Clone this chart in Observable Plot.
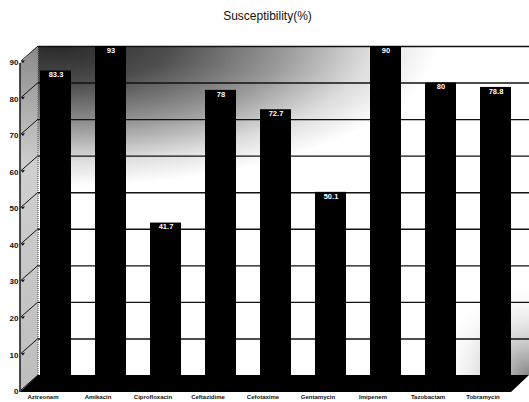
<!DOCTYPE html>
<html><head><meta charset="utf-8">
<script src="https://cdn.jsdelivr.net/npm/d3@7"></script>
<script src="https://cdn.jsdelivr.net/npm/@observablehq/plot@0.6"></script>
<style>
body{margin:0;background:#fff;font-family:"Liberation Sans",Arial,sans-serif;}
#title{height:32px;box-sizing:border-box;padding-top:9px;text-align:center;font-size:12px;line-height:14px;color:#111;padding-left:6px;}
#chart svg{display:block;}
</style></head><body>
<div id="title">Susceptibility(%)</div>
<div id="chart"></div>
<script>
const categories = ["Aztreonam","Amikacin","Ciprofloxacin","Ceftazidime","Cefotaxime","Gentamycin","Imipenem","Tazobactam","Tobramycin"];
const values = [83.3, 93, 41.7, 78, 72.7, 50.1, 90, 80, 78.8];
const valueLabels = ["83.3","93","41.7","78","72.7","50.1","90","80","78.8"];
const yTicks = [0,10,20,30,40,50,60,70,80,90];

const data = categories.map((c,i)=>({category:c, value:values[i], label:valueLabels[i]}));

const W = 529, H = 370;
const ML = 38, MR = 0, MT = 14, MB = 27;
const DX = 18, DY = 17; // 3D depth offset (style)

function decor(index, scales, vals, dims) {
  const y = scales.y;
  const g = d3.create("svg:g");
  const left = dims.marginLeft, right = dims.width - dims.marginRight;
  const top = dims.marginTop, bottom = dims.height - dims.marginBottom;
  const defs = g.append("defs");
  const rg = defs.append("radialGradient").attr("id","wallg")
    .attr("gradientUnits","userSpaceOnUse")
    .attr("cx",0).attr("cy",0).attr("r",380)
    .attr("gradientTransform",`translate(${left+20},${top-4}) scale(1,0.38)`);
  [[0,"#262626"],[0.3,"#4e4e4e"],[0.6,"#9a9a9a"],[0.82,"#dcdcdc"],[1,"#ffffff"]]
    .forEach(([o,c])=>rg.append("stop").attr("offset",o).attr("stop-color",c));
  const rg2 = defs.append("radialGradient").attr("id","wallg2")
    .attr("gradientUnits","userSpaceOnUse")
    .attr("cx",right).attr("cy",bottom).attr("r",95);
  rg2.append("stop").attr("offset",0).attr("stop-color","#777").attr("stop-opacity",0.9);
  rg2.append("stop").attr("offset",1).attr("stop-color","#fff").attr("stop-opacity",0);
  const sg = defs.append("linearGradient").attr("id","sideg").attr("x1",0).attr("y1",0).attr("x2",0).attr("y2",1);
  sg.append("stop").attr("offset",0).attr("stop-color","#8a8a8a");
  sg.append("stop").attr("offset",0.35).attr("stop-color","#cfcfcf");
  sg.append("stop").attr("offset",1).attr("stop-color","#bdbdbd");

  g.append("rect").attr("x",left).attr("y",top).attr("width",right-left).attr("height",bottom-top).attr("fill","url(#wallg)");
  g.append("rect").attr("x",left).attr("y",top).attr("width",right-left).attr("height",bottom-top).attr("fill","url(#wallg2)");
  // side wall
  g.append("polygon")
    .attr("points",`${left-DX},${top+DY} ${left},${top} ${left},${bottom} ${left-DX},${bottom+DY}`)
    .attr("fill","url(#sideg)");
  g.append("line").attr("x1",left-DX).attr("y1",top+DY).attr("x2",left-DX).attr("y2",bottom+DY)
    .attr("stroke","#222").attr("stroke-width",1.6);
  g.append("line").attr("x1",left).attr("y1",top).attr("x2",left).attr("y2",bottom)
    .attr("stroke","#777").attr("stroke-width",1.5).attr("stroke-dasharray","1,1");
  // diagonal ticks
  for (const t of yTicks) {
    const yy = y(t);
    g.append("line").attr("x1",left-DX+1).attr("y1",yy+DY-2).attr("x2",left).attr("y2",yy)
      .attr("stroke","#111").attr("stroke-width",1);
    g.append("path").attr("d",`M${left-DX+1},${yy+DY-2} l4,-1 l-2,3 z`).attr("fill","#111");
  }
  return g.node();
}

function floor(index, scales, vals, dims) {
  const left = dims.marginLeft, right = dims.width - dims.marginRight;
  const bottom = dims.height - dims.marginBottom;
  const g = d3.create("svg:g");
  g.append("polygon")
    .attr("points",`${left},${bottom} ${right},${bottom} ${right-DX},${bottom+DY} ${left-DX},${bottom+DY}`)
    .attr("fill","#000");
  return g.node();
}

const chart = Plot.plot({
  width: W, height: H,
  marginLeft: ML, marginRight: MR, marginTop: MT, marginBottom: MB,
  style: {fontFamily: '"Liberation Sans", Arial, sans-serif', background: "transparent"},
  x: {domain: categories, range: [27.5, 522.5], paddingInner: 0.44, paddingOuter: 0.22, axis: null},
  y: {domain: [0, 90], axis: null},
  marks: [
    decor,
    Plot.ruleY(yTicks.filter(t=>t>0), {stroke:"#111", strokeWidth:1.4}),
    Plot.barY(data, {x:"category", y:"value", fill:"#000", clip:true}),
    floor,
    Plot.text(data, {x:"category", y:d=>Math.min(d.value,90), text:"label", fill:"#fff", fontSize:7.5, fontWeight:"bold", dy:4}),
    Plot.text(yTicks, {y:d=>d, text:d=>String(d), frameAnchor:"left", textAnchor:"end", dx:-20, dy:16, fontSize:8, fontWeight:"bold", fill:"#111"}),
    Plot.text(data, {x:"category", text:"category", frameAnchor:"bottom", dy:23, dx:-13, fontSize:6, fontWeight:"bold", fill:"#111"})
  ]
});
document.getElementById("chart").appendChild(chart);
</script>
</body></html>
